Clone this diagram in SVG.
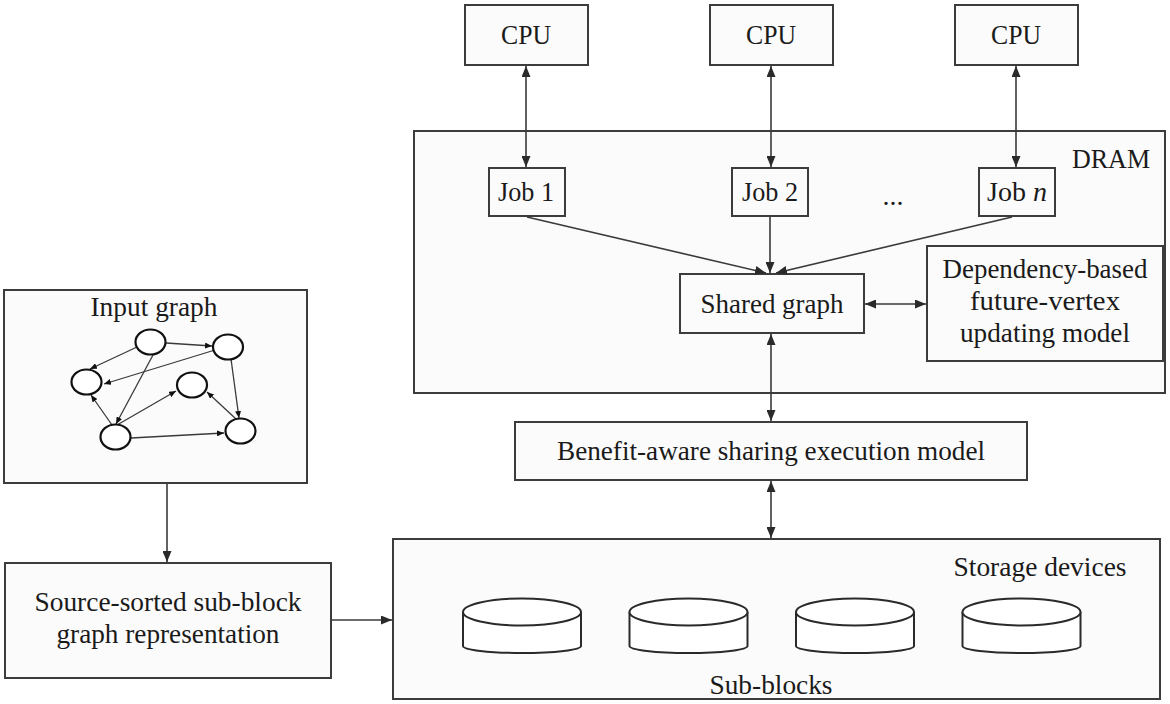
<svg xmlns="http://www.w3.org/2000/svg" width="1170" height="704" viewBox="0 0 1170 704">
<defs>
<style>
.box{fill:#fbfbfb;stroke:#3c3c3c;stroke-width:2}
.t{font-family:"Liberation Serif","Times New Roman",serif;font-size:28px;fill:#1a1a1a;text-anchor:middle}
.c{fill:none;stroke:#3a3a3a;stroke-width:1.6}
.g{fill:none;stroke:#3a3a3a;stroke-width:1.3}
.n{fill:#fff;stroke:#111;stroke-width:2.2}
.cyl{fill:#fff;stroke:#2a2a2a;stroke-width:2}
</style>
<marker id="ah" markerUnits="userSpaceOnUse" markerWidth="11" markerHeight="9" refX="11" refY="4.5" orient="auto-start-reverse">
<path d="M0,0 L11,4.5 L0,9 z" fill="#2a2a2a"/>
</marker>
<marker id="sa" markerUnits="userSpaceOnUse" markerWidth="7" markerHeight="6" refX="7" refY="3" orient="auto">
<path d="M0,0 L7,3 L0,6 z" fill="#111"/>
</marker>
</defs>
<rect width="1170" height="704" fill="#fff"/>

<g id="dram">
<rect class="box" x="414" y="131" width="751" height="262"/>
<text class="t" x="1111" y="168" textLength="78" lengthAdjust="spacingAndGlyphs">DRAM</text>
<text class="t" x="893" y="205">...</text>
</g>

<g id="cpu1"><rect class="box" x="465" y="5" width="123" height="60"/><text class="t" x="526" y="44" textLength="50" lengthAdjust="spacingAndGlyphs">CPU</text></g>
<g id="cpu2"><rect class="box" x="710" y="5" width="123" height="60"/><text class="t" x="771" y="44" textLength="50" lengthAdjust="spacingAndGlyphs">CPU</text></g>
<g id="cpu3"><rect class="box" x="955" y="5" width="123" height="60"/><text class="t" x="1016" y="44" textLength="50" lengthAdjust="spacingAndGlyphs">CPU</text></g>

<g id="job1"><rect class="box" x="489" y="168" width="76" height="48"/><text class="t" x="526" y="201" textLength="56" lengthAdjust="spacingAndGlyphs">Job 1</text></g>
<g id="job2"><rect class="box" x="732" y="168" width="76" height="48"/><text class="t" x="770" y="201" textLength="56" lengthAdjust="spacingAndGlyphs">Job 2</text></g>
<g id="jobn"><rect class="box" x="979" y="168" width="76" height="48"/><text class="t" x="1017" y="201">Job <tspan font-style="italic">n</tspan></text></g>

<g id="shared"><rect class="box" x="680" y="274" width="184" height="59"/><text class="t" x="772" y="313" textLength="143" lengthAdjust="spacingAndGlyphs">Shared graph</text></g>

<g id="dependency"><rect class="box" x="927" y="246" width="236" height="115"/>
<text class="t" x="1045" y="278" textLength="205" lengthAdjust="spacingAndGlyphs">Dependency-based</text>
<text class="t" x="1045" y="310" textLength="150" lengthAdjust="spacingAndGlyphs">future-vertex</text>
<text class="t" x="1045" y="342" textLength="170" lengthAdjust="spacingAndGlyphs">updating model</text></g>

<g id="benefit"><rect class="box" x="515" y="422" width="512" height="58"/><text class="t" x="771" y="460" textLength="428" lengthAdjust="spacingAndGlyphs">Benefit-aware sharing execution model</text></g>

<g id="storage"><rect class="box" x="393" y="539" width="767" height="160"/>
<text class="t" x="1040" y="576" textLength="173" lengthAdjust="spacingAndGlyphs">Storage devices</text>
<text class="t" x="771" y="694" textLength="123" lengthAdjust="spacingAndGlyphs">Sub-blocks</text>
<g id="cyl1"><path class="cyl" d="M463,612 L463,646 A59,7 0 0 0 581,646 L581,612"/><ellipse class="cyl" cx="522" cy="612" rx="59" ry="13.5"/></g>
<g id="cyl2"><path class="cyl" d="M629.5,612 L629.5,646 A59,7 0 0 0 747.5,646 L747.5,612"/><ellipse class="cyl" cx="688.5" cy="612" rx="59" ry="13.5"/></g>
<g id="cyl3"><path class="cyl" d="M796,612 L796,646 A59,7 0 0 0 914,646 L914,612"/><ellipse class="cyl" cx="855" cy="612" rx="59" ry="13.5"/></g>
<g id="cyl4"><path class="cyl" d="M962.5,612 L962.5,646 A59,7 0 0 0 1080.5,646 L1080.5,612"/><ellipse class="cyl" cx="1021.5" cy="612" rx="59" ry="13.5"/></g>
</g>

<g id="input">
<rect class="box" x="4" y="290" width="303" height="193"/>
<text class="t" x="154" y="316" textLength="127" lengthAdjust="spacingAndGlyphs">Input graph</text>
<g id="graph-edges">
<line class="g" x1="166" y1="343" x2="212" y2="346" marker-end="url(#sa)"/>
<line class="g" x1="137" y1="347" x2="90" y2="369" marker-end="url(#sa)"/>
<line class="g" x1="215" y1="350" x2="104" y2="384" marker-end="url(#sa)"/>
<line class="g" x1="153" y1="355" x2="116" y2="424" marker-end="url(#sa)"/>
<line class="g" x1="112" y1="425" x2="91" y2="395" marker-end="url(#sa)"/>
<line class="g" x1="117" y1="425" x2="176" y2="391" marker-end="url(#sa)"/>
<line class="g" x1="131" y1="438" x2="224" y2="433" marker-end="url(#sa)"/>
<line class="g" x1="231" y1="359" x2="239" y2="418" marker-end="url(#sa)"/>
<line class="g" x1="236" y1="419" x2="207" y2="392" marker-end="url(#sa)"/>
</g>
<g id="graph-nodes">
<ellipse class="n" cx="150.5" cy="342" rx="15" ry="12.5"/>
<ellipse class="n" cx="228" cy="347" rx="15" ry="12.5"/>
<ellipse class="n" cx="86.5" cy="382" rx="15" ry="12.5"/>
<ellipse class="n" cx="192" cy="385" rx="15" ry="12.5"/>
<ellipse class="n" cx="115.5" cy="437" rx="15" ry="12.5"/>
<ellipse class="n" cx="240.5" cy="431" rx="15" ry="12.5"/>
</g>
</g>

<g id="source"><rect class="box" x="5" y="563" width="326" height="115"/>
<text class="t" x="168" y="611" textLength="267" lengthAdjust="spacingAndGlyphs">Source-sorted sub-block</text>
<text class="t" x="168" y="643" textLength="223" lengthAdjust="spacingAndGlyphs">graph representation</text></g>

<g id="connectors">
<line class="c" x1="526" y1="66" x2="526" y2="167" marker-start="url(#ah)" marker-end="url(#ah)"/>
<line class="c" x1="771" y1="66" x2="771" y2="167" marker-start="url(#ah)" marker-end="url(#ah)"/>
<line class="c" x1="1016" y1="66" x2="1016" y2="167" marker-start="url(#ah)" marker-end="url(#ah)"/>
<line class="c" x1="527" y1="217" x2="766" y2="273" marker-end="url(#ah)"/>
<line class="c" x1="770" y1="217" x2="770" y2="273" marker-end="url(#ah)"/>
<line class="c" x1="1012" y1="217" x2="776" y2="273" marker-end="url(#ah)"/>
<line class="c" x1="865" y1="304" x2="926" y2="304" marker-start="url(#ah)" marker-end="url(#ah)"/>
<line class="c" x1="771" y1="334" x2="771" y2="421" marker-start="url(#ah)" marker-end="url(#ah)"/>
<line class="c" x1="771" y1="481" x2="771" y2="538" marker-start="url(#ah)" marker-end="url(#ah)"/>
<line class="c" x1="167" y1="484" x2="167" y2="562" marker-end="url(#ah)"/>
<line class="c" x1="332" y1="620" x2="392" y2="620" marker-end="url(#ah)"/>
</g>
</svg>
